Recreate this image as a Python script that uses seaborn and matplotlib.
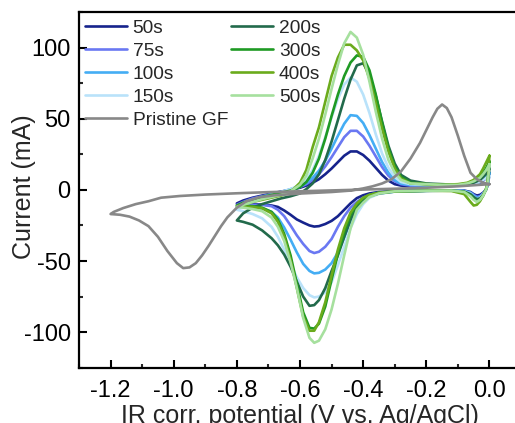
import numpy as np
import pandas as pd
import matplotlib
matplotlib.use("Agg")
import matplotlib.pyplot as plt
from matplotlib.ticker import MultipleLocator, FormatStrFormatter
import seaborn as sns

# ---- potential grids (V vs. Ag/AgCl) ----
# cathodic sweep: 0.0 V -> -0.8 V
v_cath = [0.0, -0.005, -0.01, -0.02, -0.03, -0.04, -0.05, -0.06, -0.08, -0.12, -0.20,
          -0.30, -0.35, -0.38, -0.40, -0.42, -0.44, -0.46, -0.48, -0.50, -0.52, -0.54,
          -0.555, -0.57, -0.59, -0.61, -0.63, -0.65, -0.67, -0.69, -0.72, -0.75, -0.78, -0.80]
# anodic sweep: -0.8 V -> 0.0 V
v_anod = [-0.80, -0.78, -0.75, -0.72, -0.69, -0.66, -0.63, -0.60, -0.58, -0.56, -0.54,
          -0.52, -0.50, -0.48, -0.46, -0.44, -0.42, -0.40, -0.38, -0.36, -0.34, -0.32,
          -0.30, -0.28, -0.25, -0.20, -0.15, -0.10, -0.07, -0.05, -0.03, -0.02, -0.01, 0.0]

# ---- currents (mA) per deposition time ----
i_cath_50 = [11, 4, 0.5, -2, -3.5, -4, -3, -1.5, -0.5, -0.3, -0.5,
             -0.8, -1.5, -2.5, -3.8, -5.8, -9.5, -14, -18.5, -21.8, -24, -25.5,
             -25.8, -25, -23, -20.8, -17.5, -14.5, -12, -11, -10.3, -10, -9.8, -9.5]
i_anod_50 = [-9.5, -7.5, -5.5, -4, -2.5, -1.2, 0, 1.5, 3, 5, 7.5,
             11, 15, 19.5, 24, 27, 27, 24.5, 20.5, 15.5, 10.5, 6.5,
             4, 3, 2.5, 2.5, 2.5, 3, 3.5, 4, 5, 6.5, 8.5, 11]

i_cath_75 = [12, 4.5, 0.5, -2.5, -4.5, -5, -3.5, -2, -0.8, -0.4, -0.6,
             -1, -2, -3.5, -5.5, -8.5, -12.5, -18.5, -26, -34.5, -40, -43.5,
             -44.4, -43, -38, -32, -25, -18.5, -14, -11.5, -10.5, -10.5, -10.5, -10.5]
i_anod_75 = [-10.5, -8.5, -6, -4.5, -3, -1.5, 0, 2, 4, 7, 11,
             16.5, 23, 30, 37, 41.5, 41.5, 37.5, 31, 23.5, 16, 10,
             6, 4, 3, 3, 3, 3.5, 4, 4.5, 5.5, 7, 9, 12]

i_cath_100 = [12, 4.5, 0.5, -3, -5, -5.5, -4, -2, -0.8, -0.4, -0.6,
              -1.2, -2.5, -4.5, -7.5, -12.5, -22, -33.5, -44, -51.5, -56, -58.3,
              -58.7, -57, -52, -44, -35, -26.5, -19.5, -15.5, -13, -12.5, -12, -12]
i_anod_100 = [-12, -9.5, -7, -5, -3, -1.5, 0.5, 2.5, 5, 8.5, 13.5,
              20.5, 29, 38, 46.5, 52.5, 52, 47, 38.5, 29, 19.5, 12,
              7, 4.5, 3.5, 3, 3, 3.5, 4, 4.5, 5.5, 7, 9, 12]

i_cath_150 = [10, 4, 0.5, -3, -5.5, -6.5, -5, -2.5, -1, -0.5, -0.7,
              -1.2, -2.8, -5.5, -10, -17, -27, -40, -53, -65, -72, -75,
              -75.6, -74, -69, -61.5, -52, -42, -33, -26, -20, -17, -15, -14]
i_anod_150 = [-14, -11, -8, -5.5, -3.5, -1.5, 0.5, 3.5, 7, 14, 24,
              37, 51, 64, 74, 79, 76, 67, 54, 39, 25.5, 15.5,
              9, 5.5, 4, 3.5, 3.5, 3.5, 4, 4.5, 5.5, 7, 8.5, 10]

i_cath_200 = [15, 5, 0.5, -3.5, -6, -6.5, -5, -3, -1.2, -0.5, -0.7,
              -1.2, -2.5, -4.5, -8, -12, -21, -33, -46, -57, -69, -77.5,
              -81, -81.5, -75, -64.5, -54, -45.5, -39, -34, -28.5, -24.5, -22.5, -21.5]
i_anod_200 = [-21.5, -16.5, -12.5, -10, -8, -6, -4.5, -2.5, 0.5, 4.5, 11,
              21, 34, 49, 64, 77.5, 87.5, 89, 81, 66, 48, 31,
              18.5, 10.5, 6.5, 4.5, 4, 3.5, 4, 5, 7, 9, 11.5, 15]

i_cath_300 = [20, 7, 1, -4, -7, -8, -6.5, -4, -1.5, -0.5, -0.6,
              -1, -2, -3.5, -6, -10.5, -17.5, -29.5, -45, -63, -82, -94,
              -97.5, -97, -86, -66, -46, -31, -21, -15.5, -12.5, -11.5, -11, -11]
i_anod_300 = [-11, -9, -7, -5, -3.5, -2, -0.5, 2, 5.5, 12, 22,
              36, 52, 67, 80, 89.5, 94.5, 93.5, 84, 67, 47, 29,
              16.5, 9, 5, 4, 3.5, 3.5, 4.5, 6, 9, 12, 15.5, 20]

i_cath_400 = [24, 8, 1, -4, -8, -10.5, -11, -8.5, -3, -0.8, -0.6,
              -1, -2, -3.5, -5.5, -9.5, -16, -27, -42, -60, -79, -93,
              -99, -99, -89, -69, -49, -33, -22.5, -16.5, -13, -12, -11.8, -11.5]
i_anod_400 = [-11.5, -10, -8.5, -7, -5.5, -4, -1.5, 5, 14, 30, 44,
              62, 80, 93, 102, 102, 98, 91, 78, 61, 43, 27,
              15, 8, 4.5, 4, 3.5, 4, 5, 7, 11, 15, 19.5, 24]

i_cath_500 = [18, 6, 0.5, -4, -7, -8.5, -7, -4.5, -1.5, -0.5, -0.6,
              -1, -2.5, -5, -9, -14, -27, -46, -66, -84, -98, -106,
              -107.5, -104, -90, -69, -51, -36, -26, -19.5, -15, -13.5, -12.5, -12]
i_anod_500 = [-12, -10.5, -8.5, -6.5, -5, -3.5, -1, 3.5, 10, 22, 36,
              53, 71, 88, 103, 111, 107, 95, 76, 55, 36, 21,
              12, 7, 4.5, 4, 3.5, 3.5, 4.5, 6, 8.5, 11, 14, 18]

# ---- pristine graphite felt, wide window ----
v_gf = [0.0, -0.1, -0.2, -0.3, -0.4, -0.5, -0.6, -0.7, -0.8, -0.9, -0.98, -1.04,
        -1.08, -1.12, -1.16, -1.19, -1.2,
        -1.17, -1.14, -1.11, -1.08, -1.05, -1.02, -0.99, -0.97, -0.95, -0.93, -0.91,
        -0.89, -0.87, -0.85, -0.83, -0.80, -0.77, -0.73, -0.68, -0.6, -0.5, -0.44,
        -0.40, -0.37, -0.34, -0.31, -0.28, -0.25, -0.22, -0.20, -0.18, -0.165, -0.15,
        -0.135, -0.12, -0.10, -0.08, -0.06, -0.04, -0.02, 0.0]
i_gf = [4, 2.5, 1.5, 0.8, 0.2, -0.4, -1, -1.6, -2.4, -3.3, -4.3, -5.5,
        -8, -10, -12.8, -15.5, -17,
        -17.5, -18.8, -21.5, -25.5, -33, -43, -51.5, -55, -54.5, -51.5, -46,
        -39.5, -32.5, -25.5, -19.3, -12.5, -8, -5.2, -3.8, -2.6, -1.5, -0.5,
        1, 2.5, 4.5, 7.5, 13, 22, 33, 42, 51, 57, 60,
        57.5, 51, 38, 24, 12, 7.5, 5, 4]

samples = ["50s", "75s", "100s", "150s", "200s", "300s", "400s", "500s"]
cathodic = [i_cath_50, i_cath_75, i_cath_100, i_cath_150,
            i_cath_200, i_cath_300, i_cath_400, i_cath_500]
anodic = [i_anod_50, i_anod_75, i_anod_100, i_anod_150,
          i_anod_200, i_anod_300, i_anod_400, i_anod_500]
gf_label = "Pristine GF"

colors = {
    "50s": "#16238c",
    "75s": "#6a78f2",
    "100s": "#44adf4",
    "150s": "#b9e2fa",
    "200s": "#226a4b",
    "300s": "#1f9a24",
    "400s": "#6bab1c",
    "500s": "#a6e09e",
    gf_label: "#888888",
}

frames = []
for name, ic, ia in zip(samples, cathodic, anodic):
    frames.append(pd.DataFrame({"V": v_cath + v_anod, "I": ic + ia, "sample": name}))
frames.append(pd.DataFrame({"V": v_gf, "I": i_gf, "sample": gf_label}))
df = pd.concat(frames, ignore_index=True)

sns.set_style("ticks")
plt.rcParams["font.family"] = ["Liberation Sans", "DejaVu Sans"]
plt.rcParams["axes.unicode_minus"] = False

fig = plt.figure(figsize=(5.15, 4.23), dpi=100)
ax = fig.add_axes([0.1534, 0.1307, 0.8583, 0.8409])

sns.lineplot(data=df, x="V", y="I", hue="sample", hue_order=samples + [gf_label],
             palette=colors, sort=False, estimator=None, linewidth=1.9, ax=ax,
             legend=True)

ax.set_xlim(-1.3, 0.1)
ax.set_ylim(-125, 125)
ax.xaxis.set_major_locator(MultipleLocator(0.2))
ax.xaxis.set_minor_locator(MultipleLocator(0.1))
ax.xaxis.set_major_formatter(FormatStrFormatter("%.1f"))
ax.yaxis.set_major_locator(MultipleLocator(50))
ax.yaxis.set_minor_locator(MultipleLocator(25))

for side in ["left", "bottom", "top"]:
    ax.spines[side].set_linewidth(1.6)
    ax.spines[side].set_color("black")
ax.spines["right"].set_visible(False)

ax.tick_params(which="major", direction="in", length=6, width=1.5,
               labelsize=17, colors="black")
ax.tick_params(axis="x", which="major", pad=9)
ax.tick_params(axis="y", which="major", pad=6)
ax.tick_params(which="minor", direction="in", length=3, width=1.5)
ax.tick_params(top=False, right=False, which="both")

ax.set_xlabel("IR corr. potential (V vs. Ag/AgCl)", fontsize=18, labelpad=1)
ax.set_ylabel("Current (mA)", fontsize=18)
ax.yaxis.set_label_coords(-0.098, 0.51)

handles, labels = ax.get_legend_handles_labels()
lookup = dict(zip(labels, handles))
order = ["50s", "75s", "100s", "150s", gf_label, "200s", "300s", "400s", "500s"]
ax.legend([lookup[k] for k in order], order, ncol=2, loc="upper left",
          bbox_to_anchor=(0.0, 0.995), frameon=False, fontsize=13.8,
          handlelength=2.2, handletextpad=0.3, columnspacing=0.15,
          labelspacing=0.29, borderaxespad=0.1, borderpad=0.2)

fig.savefig("out.png", dpi=100)
